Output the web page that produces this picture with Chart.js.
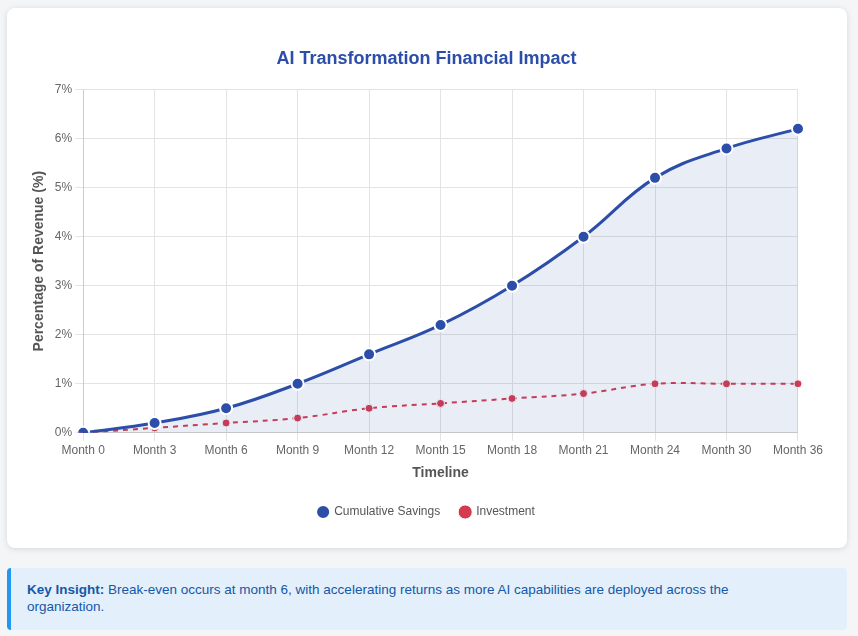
<!DOCTYPE html>
<html>
<head>
<meta charset="utf-8">
<script src="https://cdn.jsdelivr.net/npm/chart.js"></script>
<style>
  body { margin: 0; background: #f4f5f7; font-family: Arial, "Liberation Sans", sans-serif; }
  .card { position: absolute; left: 7px; top: 8px; width: 840px; height: 540px; background: #fff;
          border-radius: 8px; box-shadow: 0 1px 6px rgba(0,0,0,0.12); }
  .wrap { position: absolute; left: 20px; top: 40px; width: 799px; height: 480px; }
  .insight { position: absolute; left: 7px; top: 568px; width: 800px; height: 62px; box-sizing: border-box; width: 840px;
             background: #e3f0fb; border-left: 4px solid #2196f3; border-radius: 4px; padding: 13px 60px 8px 16px;
             color: #1557a8; font-size: 13.5px; line-height: 17px; }
</style>
</head>
<body>
<div class="card"><div class="wrap"><canvas id="grafico"></canvas></div></div>
<div class="insight"><b>Key Insight:</b> Break-even occurs at month 6, with accelerating returns as more AI capabilities are deployed across the organization.</div>
<script>
// datos
const meses = ["Month 0","Month 3","Month 6","Month 9","Month 12","Month 15","Month 18","Month 21","Month 24","Month 30","Month 36"]
const ahorro = [0, 0.2, 0.5, 1.0, 1.6, 2.2, 3.0, 4.0, 5.2, 5.8, 6.2]
const inversion = [0, 0.1, 0.2, 0.3, 0.5, 0.6, 0.7, 0.8, 1.0, 1.0, 1.0]

const azul = "#2c4ea8"
const rojo = "#d63a4e"

new Chart(document.getElementById("grafico"), {
    type: 'line',
    data: {
        labels: meses,
        datasets: [{
            label: 'Cumulative Savings',
            data: ahorro,
            borderColor: azul,
            backgroundColor: 'rgba(44,78,168,0.1)',
            fill: true,
            tension: 0.4,
            borderWidth: 3,
            pointRadius: 6,
            pointHoverRadius: 7,
            pointBackgroundColor: azul,
            pointBorderColor: '#fff',
            pointBorderWidth: 2
        }, {
            label: 'Investment',
            data: inversion,
            borderColor: rojo,
            backgroundColor: rojo,
            borderDash: [5, 5],
            fill: false,
            tension: 0.4,
            borderWidth: 2,
            pointRadius: 4,
            pointBackgroundColor: rojo,
            pointBorderColor: '#fff',
            pointBorderWidth: 1
        }]
    },
    options: {
        responsive: true,
        maintainAspectRatio: false,
        animation: false,
        layout: { padding: { right: 0 } },
        plugins: {
            title: { display: true, text: 'AI Transformation Financial Impact', color: azul,
                     font: { size: 18, weight: 'bold' }, padding: { top: 0, bottom: 20 } },
            legend: { position: 'bottom', labels: { usePointStyle: true, pointStyle: 'circle', boxWidth: 10, boxHeight: 10, color: '#555', padding: 20 } }
        },
        scales: {
            x: {
                title: { display: true, text: 'Timeline', color: '#555', font: { size: 14, weight: 'bold' } },
                ticks: { color: '#666' },
                grid: { color: '#e3e3e3' }
            },
            y: {
                min: 0, max: 7,
                title: { display: true, text: 'Percentage of Revenue (%)', color: '#555', font: { size: 14, weight: 'bold' } },
                ticks: { stepSize: 1, color: '#666', callback: v => v + '%' },
                grid: { color: '#e3e3e3' }
            }
        }
    }
})
</script>
</body>
</html>
